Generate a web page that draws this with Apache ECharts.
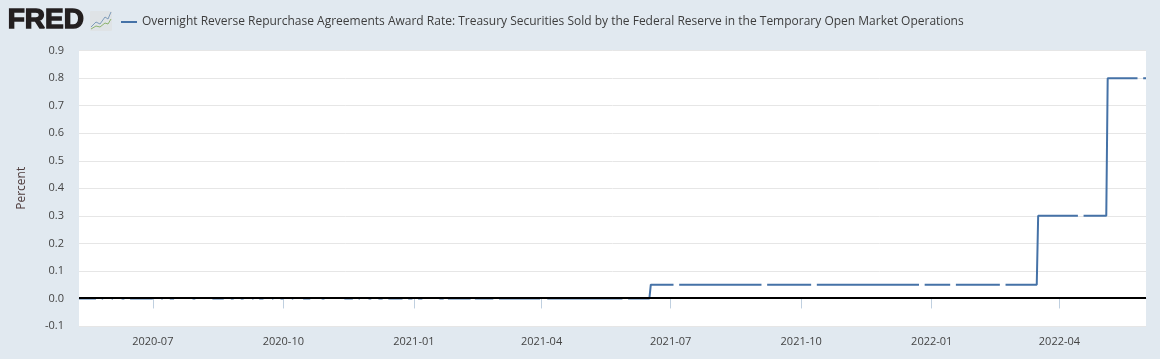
<!DOCTYPE html>
<html>
<head>
<meta charset="utf-8">
<style>html,body{margin:0;padding:0;background:#e1e9f0;}#c{width:1160px;height:359px;}</style>
<script src="https://cdn.jsdelivr.net/npm/echarts@6/dist/echarts.min.js"></script>
</head>
<body>
<div id="c"></div>
<script>
var seriesName = 'Overnight Reverse Repurchase Agreements Award Rate: Treasury Securities Sold by the Federal Reserve in the Temporary Open Market Operations';
var yAxisName = 'Percent';
var axisStart = '2020-05-10';
var axisEnd = '2022-06-01';
var tickDates = ['2020-07-01','2020-10-01','2021-01-01','2021-04-01','2021-07-01','2021-10-01','2022-01-01','2022-04-01'];
var segmentStart = ['2020-05-10','2020-05-26','2020-06-02','2020-06-09','2020-06-15','2020-07-07','2020-07-13','2020-07-29','2020-08-12','2020-08-25','2020-09-01','2020-09-09','2020-09-14','2020-09-23','2020-09-29','2020-10-07','2020-10-15','2020-10-28','2020-11-13','2020-11-18','2020-11-23','2020-11-30','2020-12-07','2020-12-14','2020-12-28','2021-01-04','2021-01-19','2021-01-25','2021-02-13','2021-02-19','2021-03-02','2021-03-10','2021-03-18','2021-04-05','2021-06-01','2021-06-17','2021-07-07','2021-09-07','2021-10-12','2021-11-12','2021-11-26','2021-12-27','2022-01-18','2022-02-22','2022-03-17','2022-04-18','2022-05-05','2022-05-30'];
var segmentEnd = ['2020-05-22','2020-05-27','2020-06-03','2020-06-11','2020-07-01','2020-07-08','2020-07-16','2020-07-31','2020-08-20','2020-08-27','2020-09-03','2020-09-10','2020-09-17','2020-09-24','2020-10-01','2020-10-08','2020-10-20','2020-10-30','2020-11-16','2020-11-19','2020-11-24','2020-12-02','2020-12-10','2020-12-24','2020-12-31','2021-01-07','2021-01-22','2021-02-10','2021-02-17','2021-02-26','2021-03-08','2021-03-16','2021-03-31','2021-05-28','2021-06-16','2021-07-03','2021-09-03','2021-10-08','2021-11-10','2021-11-24','2021-12-23','2022-01-14','2022-02-18','2022-03-16','2022-04-14','2022-05-04','2022-05-26','2022-06-01'];
var segmentValue = [0,0,0,0,0,0,0,0,0,0,0,0,0,0,0,0,0,0,0,0,0,0,0,0,0,0,0,0,0,0,0,0,0,0,0,0.05,0.05,0.05,0.05,0.05,0.05,0.05,0.05,0.05,0.30,0.30,0.80,0.80];
var zeroLineLevel = 0.00167;

var toTime = function (d) { return echarts.number.parseDate(d).getTime(); };
var points = [];
segmentStart.forEach(function (s, i) {
  points.push([s, segmentValue[i]]);
  points.push([segmentEnd[i], segmentValue[i]]);
  var next = segmentStart[i + 1];
  if (next && toTime(next) - toTime(segmentEnd[i]) > 2 * 86400000) points.push([next, null]);
});

var chart = echarts.init(document.getElementById('c'), null, { renderer: 'canvas' });
chart.setOption({
  animation: false,
  backgroundColor: '#e1e9f0',
  textStyle: { fontFamily: '"Open Sans", sans-serif' },
  legend: {
    data: [seriesName],
    left: 116, top: 11, itemWidth: 16, itemHeight: 2, itemGap: 5, icon: 'rect',
    textStyle: { fontFamily: '"Open Sans", sans-serif', fontSize: 12, color: '#3d3d3d' }
  },
  grid: { left: 79, right: 14, top: 50.6, height: 275.4, show: true, backgroundColor: '#ffffff', borderWidth: 0 },
  xAxis: {
    type: 'time',
    min: axisStart, max: axisEnd,
    axisLine: { lineStyle: { color: '#c0d0e0', width: 1 } },
    axisTick: { show: true, length: 10, lineStyle: { color: '#c0d0e0' }, customValues: tickDates.map(toTime) },
    axisLabel: { color: '#444444', fontSize: 11, margin: 10, formatter: '{yyyy}-{MM}', customValues: tickDates.map(toTime), hideOverlap: false },
    splitLine: { show: false }
  },
  yAxis: {
    type: 'value', min: -0.1, max: 0.9, interval: 0.1,
    name: yAxisName, nameLocation: 'middle', nameGap: 51, nameRotate: 90,
    nameTextStyle: { color: '#4d3b3b', fontSize: 12 },
    axisLine: { show: false }, axisTick: { show: false },
    axisLabel: { color: '#444444', fontSize: 11, margin: 15, formatter: function (v) { return v.toFixed(1); } },
    splitLine: { show: true, lineStyle: { color: '#e6e6e6', width: 1 } }
  },
  series: [{
    name: seriesName, type: 'line', data: points, showSymbol: false, connectNulls: false, z: 2,
    lineStyle: { color: '#4572a7', width: 2 }, itemStyle: { color: '#4572a7' }
  }, {
    name: 'Zero line', type: 'line', silent: true, showSymbol: false, z: 3,
    data: [[axisStart, zeroLineLevel], [axisEnd, zeroLineLevel]],
    lineStyle: { color: '#000000', width: 2 }, itemStyle: { color: '#000000' }
  }],
  graphic: [
    { type: 'text', left: 7, top: 6, style: { text: 'FRED', fill: '#231f20', stroke: '#231f20', lineWidth: 1.4, font: 'bold 28px "Liberation Sans", Arial, sans-serif' } },
    { type: 'rect', shape: { x: 90, y: 11, width: 22, height: 20, r: 1 }, style: { fill: '#dfe3e6' } },
    { type: 'polyline', shape: { points: [[91, 27], [96, 22], [100, 24], [105, 17], [108, 19], [111, 12]] }, style: { fill: 'none', stroke: '#7f9cba', lineWidth: 1 } },
    { type: 'polyline', shape: { points: [[91, 29], [96, 26], [100, 27], [105, 23], [108, 24], [111, 19]] }, style: { fill: 'none', stroke: '#8db36f', lineWidth: 1 } }
  ]
});
</script>
</body>
</html>
